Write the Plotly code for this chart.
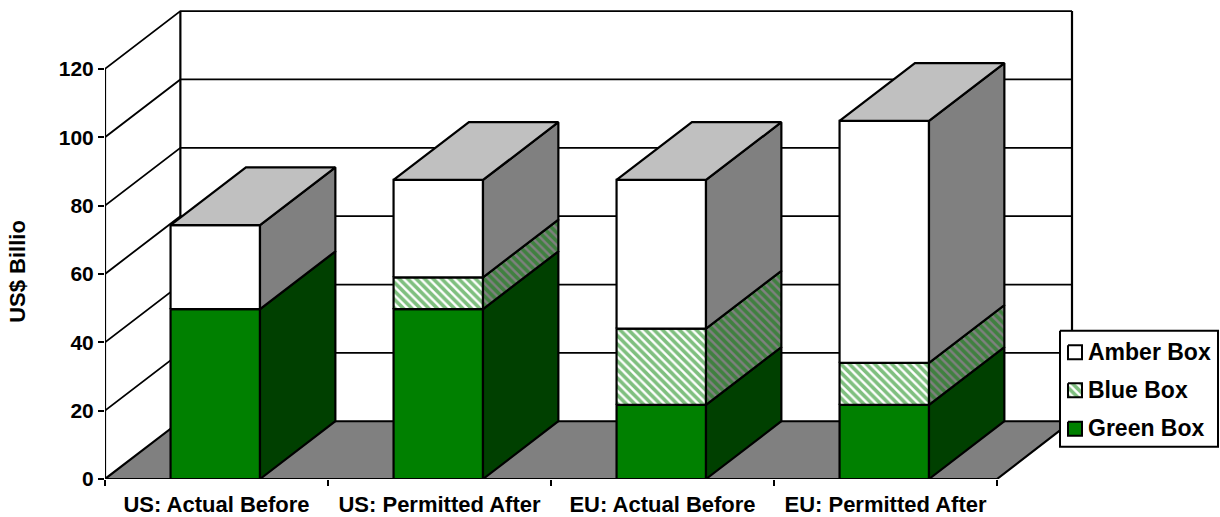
import plotly.graph_objects as go

# Chart data (US$ billions)
categories = ["US: Actual Before", "US: Permitted After", "EU: Actual Before", "EU: Permitted After"]
green_box = [49.7, 49.7, 21.7, 21.7]
blue_box = [0.0, 9.3, 22.3, 12.3]
amber_box = [24.6, 28.5, 43.5, 70.8]
y_ticks = [0, 20, 40, 60, 80, 100, 120]
legend_names = ["Amber Box", "Blue Box", "Green Box"]

# Oblique projection, in axis units
DX, DY = 0.338, 16.9
BAR_OFFSET, BAR_WIDTH = 0.294, 0.401
X_MAX = 967 / 223
X_END = 1115 / 223
Y_MAX = 469.3 / 3.42
BLACK = "#000000"
GREEN, DARK_GREEN = "#008000", "#004000"
GREY, LIGHT_GREY = "#808080", "#C0C0C0"
FONT = "Liberation Sans"

fig = go.Figure()


def poly(xs, ys, fill, pattern_bg=None, lw=2.2, xaxis="x", yaxis="y"):
    kw = dict(fillcolor=fill)
    if pattern_bg:
        kw = dict(
            fillcolor=pattern_bg,
            fillpattern=dict(shape="\\", fgcolor=GREEN, bgcolor=pattern_bg, size=6, solidity=0.6),
        )
    fig.add_trace(go.Scatter(
        x=list(xs) + [xs[0]], y=list(ys) + [ys[0]], mode="lines", fill="toself",
        line=dict(color=BLACK, width=lw), cliponaxis=False, hoverinfo="skip",
        showlegend=False, xaxis=xaxis, yaxis=yaxis, **kw))


def line(xs, ys, lw=1.8):
    fig.add_trace(go.Scatter(
        x=xs, y=ys, mode="lines", line=dict(color=BLACK, width=lw),
        cliponaxis=False, hoverinfo="skip", showlegend=False))


# Floor
poly([0, 4, X_MAX, DX], [0, 0, DY, DY], GREY)

# Wall gridlines running along the left side and the back
grid_x, grid_y = [], []
for v in y_ticks[1:]:
    grid_x += [0, DX, X_MAX, None]
    grid_y += [v, v + DY, v + DY, None]
line(grid_x, grid_y)
top_wall = y_ticks[-1] + DY
line([0, 0], [0, y_ticks[-1]], 2.2)
line([DX, DX], [DY, top_wall], 2.2)
line([X_MAX, X_MAX], [DY, top_wall], 2.2)

# Stacked boxes: front face, side face, then a lid on the top segment
segments = [(green_box, GREEN, DARK_GREEN, None, None),
            (blue_box, None, None, "#FFFFFF", GREY),
            (amber_box, "#FFFFFF", GREY, None, None)]
for i in range(len(categories)):
    left = i + BAR_OFFSET
    right = left + BAR_WIDTH
    base = 0.0
    for values, front, side, front_bg, side_bg in segments:
        top = base + values[i]
        if values[i] > 0:
            poly([left, right, right, left], [base, base, top, top], front, front_bg)
            poly([right, right + DX, right + DX, right],
                 [base, base + DY, top + DY, top], side, side_bg)
        base = top
    poly([left, right, right + DX, left + DX], [base, base, base + DY, base + DY], LIGHT_GREY)

# Legend panel drawn on an overlay axis measured in page pixels
LX = dict(xaxis="x2", yaxis="y2")
poly([1060, 1218, 1218, 1060], [331, 331, 447, 447], "#FFFFFF", lw=2, **LX)
swatches = [(352.5, "#FFFFFF", None), (390.5, None, "#FFFFFF"), (429, GREEN, None)]
for cy, fill, bg in swatches:
    poly([1068, 1082, 1082, 1068], [cy - 7, cy - 7, cy + 7, cy + 7], fill, bg, lw=2, **LX)
fig.add_trace(go.Scatter(
    x=[1088] * 3, y=[s[0] + 2 for s in swatches], text=legend_names, mode="text",
    textposition="middle right", cliponaxis=False, hoverinfo="skip", showlegend=False,
    textfont=dict(family=FONT, size=23, color=BLACK, weight="bold"), **LX))

fig.update_layout(
    width=1220, height=517, margin=dict(l=105, r=0, t=10, b=37.7, autoexpand=False),
    paper_bgcolor="#FFFFFF", plot_bgcolor="#FFFFFF", showlegend=False,
    font=dict(family=FONT, size=18, color=BLACK),
    xaxis=dict(
        range=[0, X_END], showgrid=False, zeroline=False, automargin=False,
        tickmode="array", tickvals=[i + 0.5 for i in range(len(categories))], ticktext=categories,
        ticks="", showline=False, ticklabelstandoff=10,
        tickfont=dict(family=FONT, size=22, color=BLACK, weight="bold"),
        minor=dict(tickmode="array", tickvals=list(range(len(categories) + 1)), ticks="outside",
                   ticklen=6, tickwidth=2, tickcolor=BLACK),
    ),
    yaxis=dict(
        range=[0, Y_MAX], showgrid=False, automargin=False,
        zeroline=False, tickmode="array", tickvals=y_ticks, ticks="outside", ticklen=6,
        tickwidth=2, tickcolor=BLACK, showline=False,
        tickfont=dict(family=FONT, size=21, color=BLACK, weight="bold"),
    ),
    xaxis2=dict(range=[105, 1220], visible=False, overlaying="x", anchor="y2"),
    yaxis2=dict(range=[479.3, 10], visible=False, overlaying="y", anchor="x2"),
    annotations=[dict(
        text="US$ Billio", x=(18 - 105) / 1115, y=(479.3 - 272) / 469.3, xref="paper", yref="paper",
        textangle=-90, showarrow=False, xanchor="center", yanchor="middle",
        font=dict(family=FONT, size=22, color=BLACK, weight="bold"),
    )],
)

fig.write_html("out.html")
